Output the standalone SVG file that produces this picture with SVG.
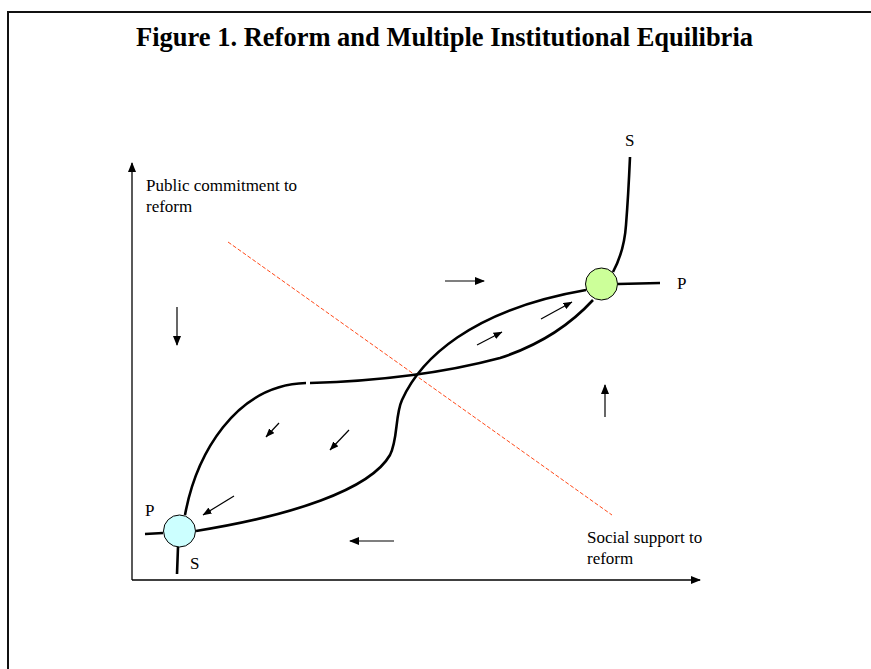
<svg xmlns="http://www.w3.org/2000/svg" width="871" height="669" viewBox="0 0 871 669">
<style>
text{font-family:"Liberation Serif","Times New Roman",serif;fill:#000}
.t{font-size:17px}
.title{font-size:26.5px;font-weight:bold}
.curve{fill:none;stroke:#000;stroke-width:2.6;stroke-linecap:butt}
.axis{fill:none;stroke:#000;stroke-width:1.3}
.arr{fill:none;stroke:#000;stroke-width:1.2}
.frame{fill:none;stroke:#111;stroke-width:2}
</style>
<defs>
<marker id="ah" viewBox="0 0 10 8" refX="9" refY="4" markerWidth="10" markerHeight="8" markerUnits="userSpaceOnUse" orient="auto">
<path d="M0,0 L10,4 L0,8 Z" fill="#000"/>
</marker>
<marker id="ahs" viewBox="0 0 9 7" refX="8.5" refY="3.5" markerWidth="9" markerHeight="7" markerUnits="userSpaceOnUse" orient="auto">
<path d="M0,0 L9,3.5 L0,7 Z" fill="#000"/>
</marker>
</defs>
<rect width="871" height="669" fill="#fff"/>
<path class="frame" d="M8,669 V12 H871"/>
<text class="title" x="444.5" y="46" text-anchor="middle" textLength="617" lengthAdjust="spacingAndGlyphs">Figure 1. Reform and Multiple Institutional Equilibria</text>
<g id="axes">
<line class="axis" x1="132" y1="580" x2="132" y2="163" marker-end="url(#ah)"/>
<line class="axis" x1="132" y1="580" x2="700" y2="580" marker-end="url(#ah)"/>
<text class="t" x="146" y="191">Public commitment to</text>
<text class="t" x="146" y="212">reform</text>
<text class="t" x="587" y="543">Social support to</text>
<text class="t" x="587" y="564">reform</text>
</g>
<line id="separatrix" x1="228" y1="242" x2="612" y2="515" stroke="#FF4A1A" stroke-width="1" stroke-dasharray="4,2"/>
<g id="connectors">
<path id="curve-S" class="curve" d="M177,574 L178,547 M185,515 C196,455 235,385 306,383 M310,383 C380,381 440,374 500,358 C540,345 570,325 593,300 M613,272 C621,257 625,240 626,225 C628,200 629,180 630,157"/>
<path id="curve-P" class="curve" d="M145,534 L163,533 M196,531 C290,516 370,490 390,455 C398,440 395,415 402,400 C420,360 470,310 586,290 M618,284 L660,283"/>
<line class="arr" x1="177" y1="307" x2="177" y2="345" marker-end="url(#ah)"/>
<line class="arr" x1="445" y1="281" x2="484" y2="281" marker-end="url(#ah)"/>
<line class="arr" x1="605" y1="417" x2="605" y2="385" marker-end="url(#ah)"/>
<line class="arr" x1="394" y1="541" x2="350" y2="541" marker-end="url(#ah)"/>
<line class="arr" x1="279" y1="423" x2="266" y2="437" marker-end="url(#ahs)"/>
<line class="arr" x1="349" y1="430" x2="330" y2="450" marker-end="url(#ahs)"/>
<line class="arr" x1="234" y1="496" x2="203" y2="515" marker-end="url(#ahs)"/>
<line class="arr" x1="477" y1="345" x2="502" y2="332" marker-end="url(#ahs)"/>
<line class="arr" x1="541" y1="319" x2="572" y2="302" marker-end="url(#ahs)"/>
</g>
<g id="eq-high">
<circle cx="601.5" cy="284" r="16" fill="#CCFF99" stroke="#000" stroke-width="1"/>
</g>
<g id="eq-low">
<circle cx="179.5" cy="531" r="16" fill="#CCFFFF" stroke="#000" stroke-width="1"/>
</g>
<g id="labels">
<text class="t" x="625" y="146">S</text>
<text class="t" x="677" y="289">P</text>
<text class="t" x="145" y="516">P</text>
<text class="t" x="190" y="569">S</text>
</g>
</svg>
